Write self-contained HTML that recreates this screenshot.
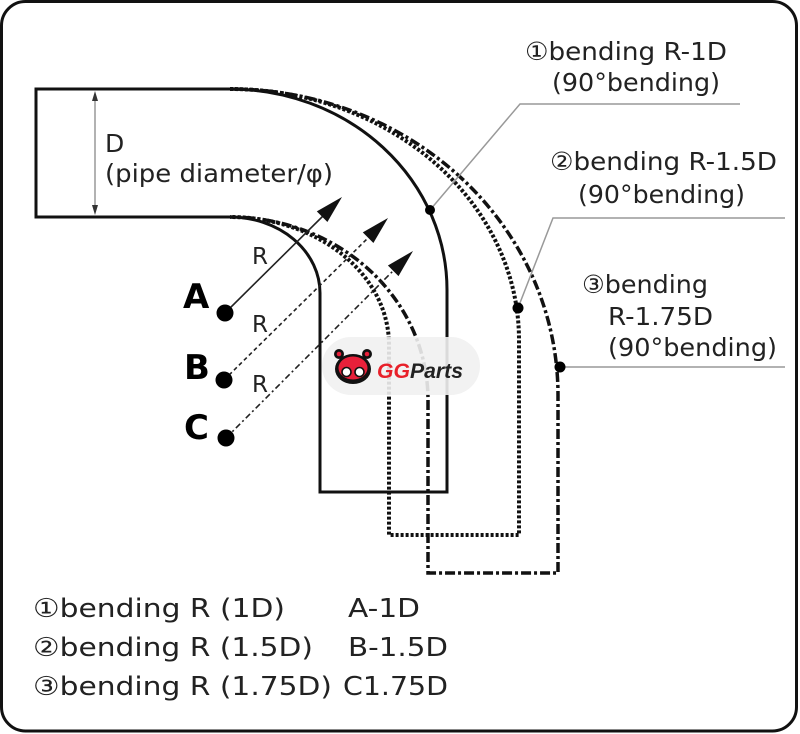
<!DOCTYPE html>
<html>
<head>
<meta charset="utf-8">
<style>
  html, body { margin: 0; padding: 0; background: #ffffff; }
  body { width: 800px; height: 734px; overflow: hidden; }
  svg { display: block; }
  .t { font-family: "DejaVu Sans", "Liberation Sans", "Noto Sans CJK JP", sans-serif; fill: #222; }
</style>
</head>
<body>
<svg width="800" height="734" viewBox="0 0 800 734" xmlns="http://www.w3.org/2000/svg">
  <rect x="0" y="0" width="800" height="734" fill="#ffffff"/>
  <!-- frame -->
  <rect x="1.5" y="1.5" width="795" height="729.5" rx="24" ry="24" fill="none" stroke="#111" stroke-width="3"/>

  <!-- straight pipe part -->
  <path d="M232,89 L36,89 L36,217 L232,217" fill="none" stroke="#111" stroke-width="3"/>

  <!-- pipe 1 : solid -->
  <path d="M230,89 A217,201 0 0 1 447,290 L447,492 L320,492 L320,293 A90,76 0 0 0 230,217" fill="none" stroke="#111" stroke-width="3"/>
  <!-- pipe 2 : dotted -->
  <path d="M230,89 A289,251 0 0 1 519,340 L519,535 L389,535 L389,345 A159,128 0 0 0 230,217" fill="none" stroke="#111" stroke-width="4" stroke-dasharray="3 2"/>
  <!-- pipe 3 : dash-dot -->
  <path d="M230,89 A328,306 0 0 1 558,395 L558,573 L428,573 L428,400 A198,183 0 0 0 230,217" fill="none" stroke="#111" stroke-width="3.5" stroke-dasharray="10 3 3 3"/>

  <!-- D dimension -->
  <line x1="95" y1="96" x2="95" y2="210" stroke="#888" stroke-width="1.3"/>
  <polygon points="95,91 92,101 98,101" fill="#333"/>
  <polygon points="95,215 92,205 98,205" fill="#333"/>
  <text class="t" x="105" y="152" font-size="25">D</text>
  <text class="t" x="105" y="182" font-size="25" textLength="228" lengthAdjust="spacingAndGlyphs">(pipe diameter/φ)</text>

  <!-- radius arrows -->
  <line x1="225" y1="313" x2="324" y2="215" stroke="#222" stroke-width="1.6"/>
  <polygon points="342,197 327.4,222 316.8,211.4" fill="#111"/>
  <line x1="224" y1="380" x2="370" y2="236" stroke="#222" stroke-width="1.6" stroke-dasharray="4 3"/>
  <polygon points="388,218 373.4,243 362.8,232.4" fill="#111"/>
  <line x1="226" y1="438" x2="395" y2="269" stroke="#222" stroke-width="1.6" stroke-dasharray="6 3 2 3"/>
  <polygon points="413,251 398.5,276.1 387.9,265.5" fill="#111"/>

  <!-- centre dots -->
  <circle cx="225" cy="313" r="8.5" fill="#000"/>
  <circle cx="224" cy="380" r="8.5" fill="#000"/>
  <circle cx="226" cy="438" r="8.5" fill="#000"/>
  <text x="183" y="308" font-family="'DejaVu Sans', 'Liberation Sans', sans-serif" font-weight="bold" font-size="34" fill="#000">A</text>
  <text x="184" y="379" font-family="'DejaVu Sans', 'Liberation Sans', sans-serif" font-weight="bold" font-size="34" fill="#000">B</text>
  <text x="184" y="439" font-family="'DejaVu Sans', 'Liberation Sans', sans-serif" font-weight="bold" font-size="34" fill="#000">C</text>

  <!-- R labels -->
  <text class="t" x="252" y="264" font-size="23" fill="#333">R</text>
  <text class="t" x="252" y="332" font-size="23" fill="#333">R</text>
  <text class="t" x="252" y="392" font-size="23" fill="#333">R</text>

  <!-- leader lines -->
  <polyline points="430,210 520,104 740,104" fill="none" stroke="#999" stroke-width="1.5"/>
  <polyline points="518,308 553,218 785,218" fill="none" stroke="#999" stroke-width="1.5"/>
  <polyline points="560,367 785,367" fill="none" stroke="#999" stroke-width="1.5"/>
  <circle cx="430" cy="210" r="5" fill="#000"/>
  <circle cx="518" cy="308" r="5.5" fill="#000"/>
  <circle cx="560" cy="367" r="5.5" fill="#000"/>

  <!-- right labels -->
  <text class="t" x="525" y="60" font-size="25" textLength="202" lengthAdjust="spacingAndGlyphs">①bending R-1D</text>
  <text class="t" x="552" y="91" font-size="25" textLength="168" lengthAdjust="spacingAndGlyphs">(90°bending)</text>
  <text class="t" x="550" y="170" font-size="25" textLength="227" lengthAdjust="spacingAndGlyphs">②bending R-1.5D</text>
  <text class="t" x="578" y="203" font-size="25" textLength="167" lengthAdjust="spacingAndGlyphs">(90°bending)</text>
  <text class="t" x="582" y="293" font-size="25" textLength="126" lengthAdjust="spacingAndGlyphs">③bending</text>
  <text class="t" x="608" y="325" font-size="25" textLength="105" lengthAdjust="spacingAndGlyphs">R-1.75D</text>
  <text class="t" x="608" y="356" font-size="25" textLength="169" lengthAdjust="spacingAndGlyphs">(90°bending)</text>

  <!-- logo badge -->
  <rect x="322" y="337" width="158" height="58" rx="29" ry="29" fill="#f1f1f1" fill-opacity="0.9"/>
  <g>
    <circle cx="339" cy="354" r="5" fill="#111"/>
    <circle cx="367" cy="354" r="5" fill="#111"/>
    <circle cx="339" cy="354" r="2.3" fill="#e8203a"/>
    <circle cx="367" cy="354" r="2.3" fill="#e8203a"/>
    <ellipse cx="353" cy="369" rx="18" ry="15" fill="#111"/>
    <ellipse cx="353" cy="368" rx="14.5" ry="11.5" fill="#e8203a"/>
    <circle cx="346.5" cy="372" r="4.5" fill="#fff" stroke="#111" stroke-width="1.6"/>
    <circle cx="359.5" cy="372" r="4.5" fill="#fff" stroke="#111" stroke-width="1.6"/>
  </g>
  <text x="377" y="378" font-family="'Liberation Sans', sans-serif" font-weight="bold" font-style="italic" font-size="21" textLength="86" lengthAdjust="spacingAndGlyphs"><tspan fill="#e8202a">GG</tspan><tspan fill="#222">Parts</tspan></text>

  <!-- bottom legend -->
  <text class="t" x="33" y="617" font-size="26" textLength="252" lengthAdjust="spacingAndGlyphs">①bending R (1D)</text>
  <text class="t" x="33" y="656" font-size="26" textLength="280" lengthAdjust="spacingAndGlyphs">②bending R (1.5D)</text>
  <text class="t" x="33" y="695" font-size="26" textLength="299" lengthAdjust="spacingAndGlyphs">③bending R (1.75D)</text>
  <text class="t" x="348" y="617" font-size="26" textLength="72" lengthAdjust="spacingAndGlyphs">A-1D</text>
  <text class="t" x="348" y="656" font-size="26" textLength="100" lengthAdjust="spacingAndGlyphs">B-1.5D</text>
  <text class="t" x="343" y="695" font-size="26" textLength="105" lengthAdjust="spacingAndGlyphs">C1.75D</text>
</svg>
</body>
</html>
